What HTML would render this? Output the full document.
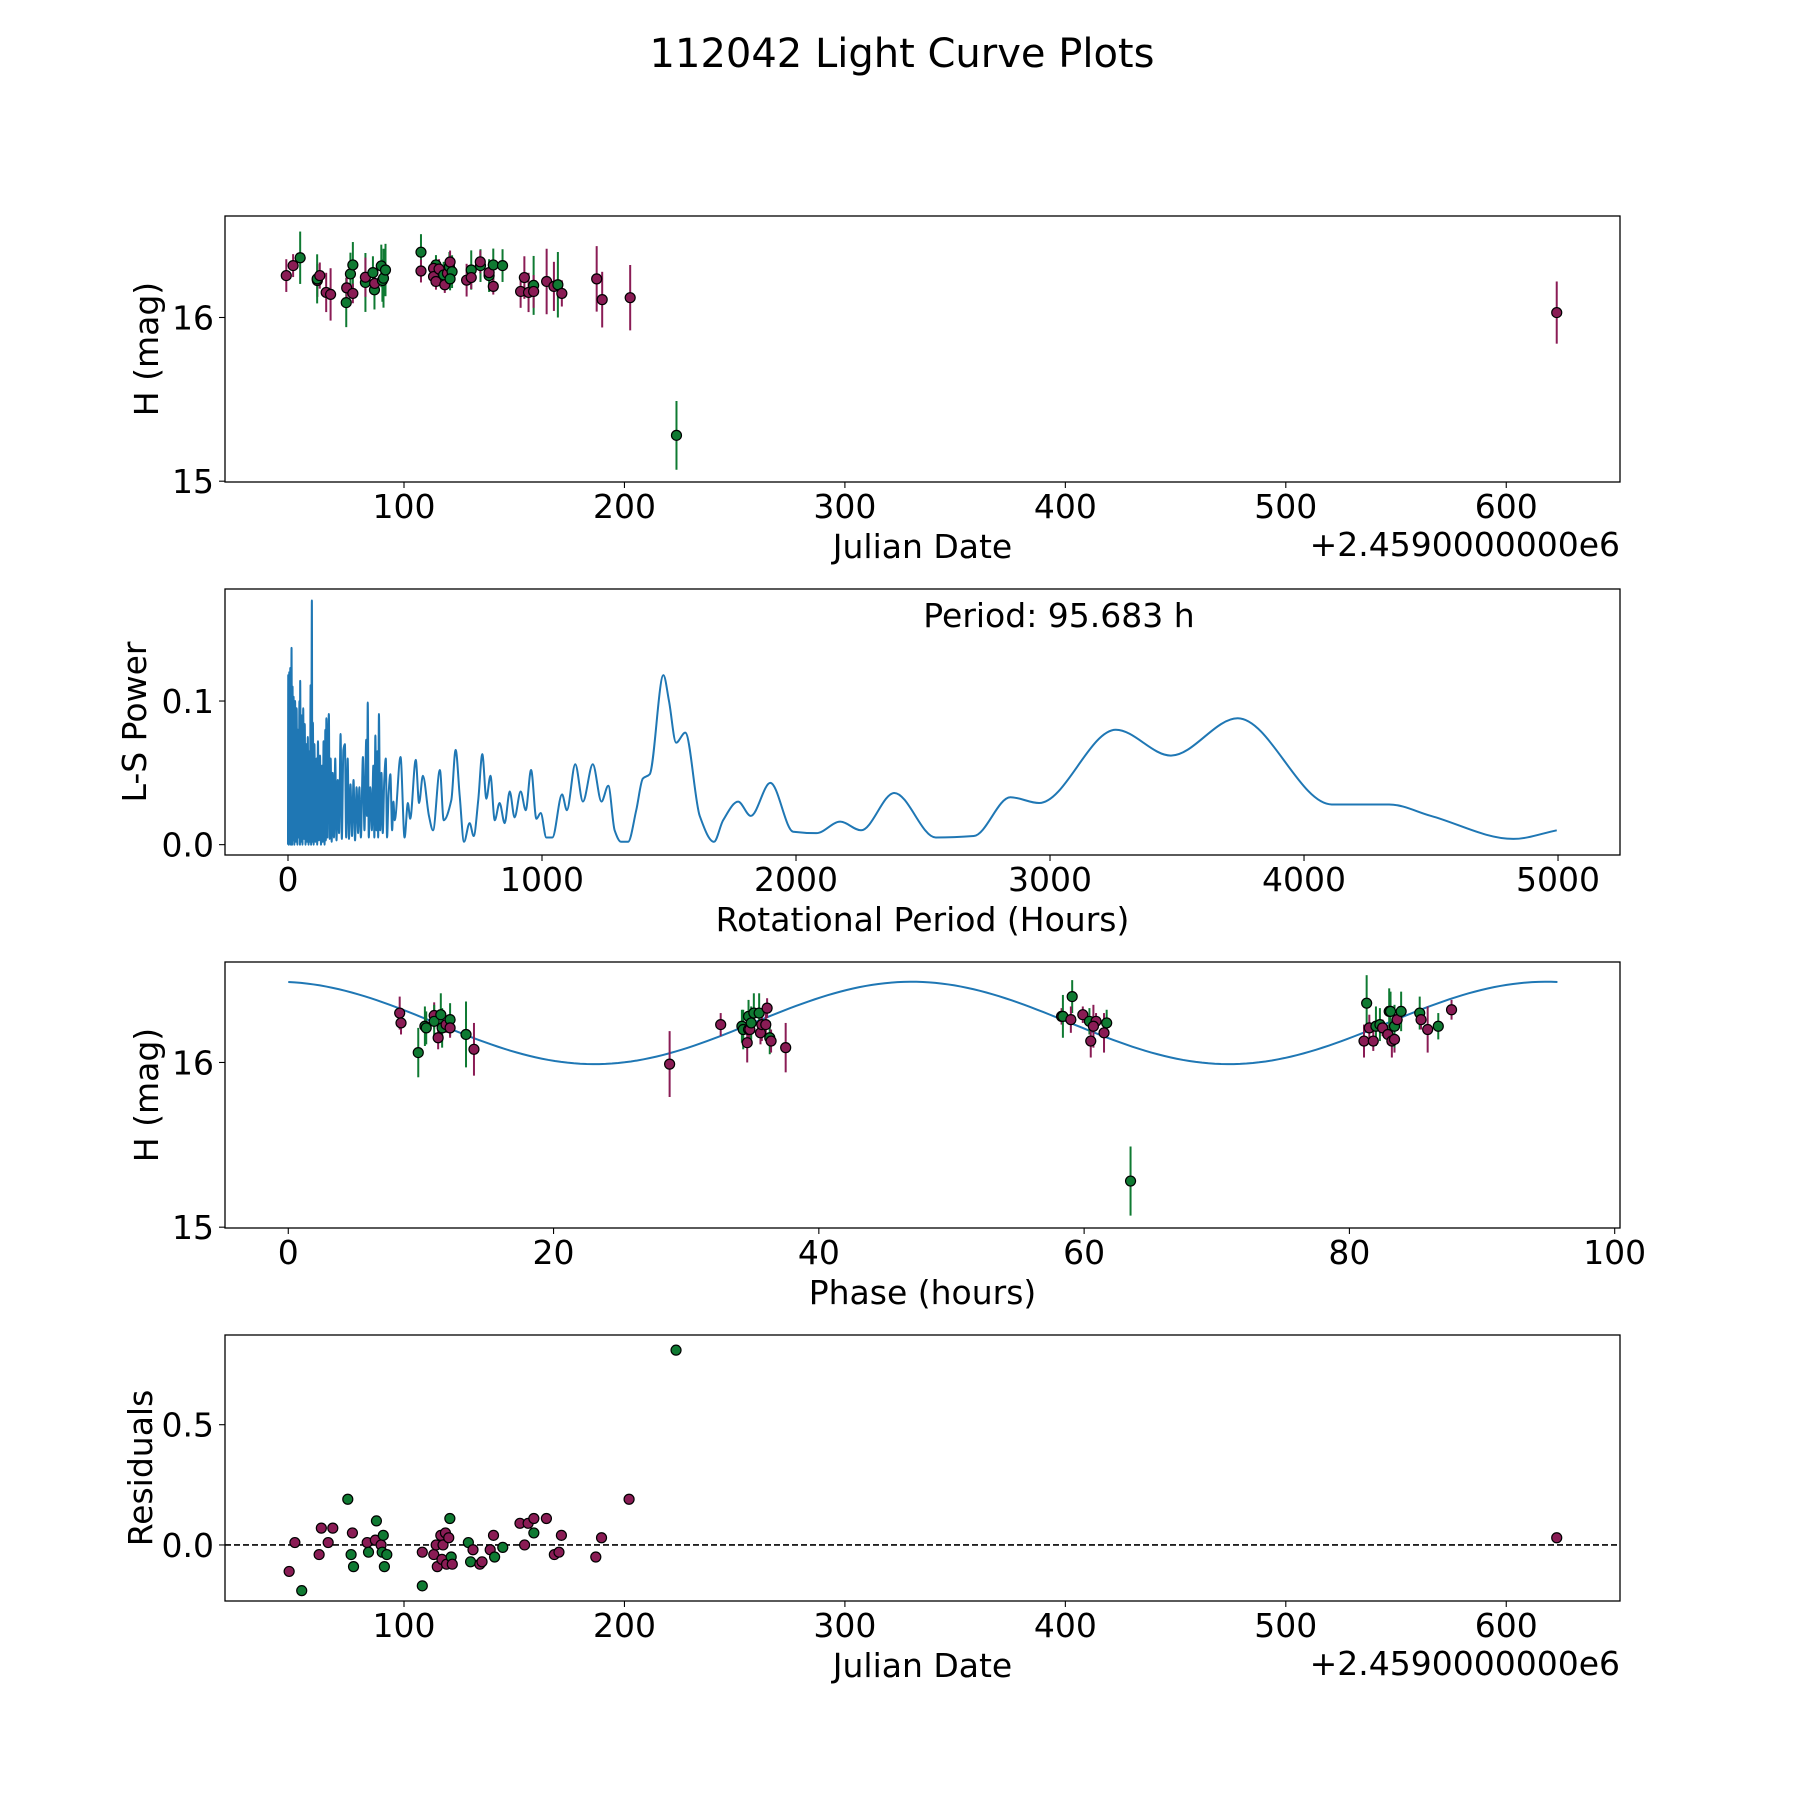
<!DOCTYPE html>
<html><head><meta charset="utf-8"><style>
html,body{margin:0;padding:0;background:#fff;}
svg{display:block;font-family:"DejaVu Sans","Liberation Sans",sans-serif;}
</style></head><body>
<svg id="fig" width="1800" height="1800" viewBox="0 0 1800 1800" xmlns="http://www.w3.org/2000/svg">
<rect width="1800" height="1800" fill="#fff"/>
<text x="902" y="67" font-size="40" text-anchor="middle">112042 Light Curve Plots</text>
</svg>
<script>
// ---------- data ----------
const jdDates = [46.6,49.7,52.9,60.7,60.6,61.8,64.7,66.7,73.8,74,75.7,76.8,76.8,82.5,82.5,85.9,86.6,86.7,89.7,90.2,90.7,91.6,107.7,107.7,114.5,113.4,113.4,115.9,114.5,118,118.5,119.7,120.6,120.9,121.8,120.9,128.4,130.5,130.5,134.7,134.6,138.6,138.6,140.5,140.5,144.7,152.9,154.6,156.5,158.8,158.8,164.7,168,169.8,171.6,187.4,189.9,202.6,223.6,622.9];
const jdMags = [16.256,16.317,16.365,16.226,16.236,16.256,16.153,16.141,16.091,16.181,16.266,16.321,16.147,16.214,16.246,16.274,16.169,16.208,16.315,16.226,16.24,16.29,16.399,16.284,16.321,16.30,16.25,16.296,16.22,16.26,16.2,16.27,16.31,16.339,16.28,16.236,16.228,16.29,16.244,16.317,16.34,16.256,16.274,16.321,16.19,16.317,16.159,16.244,16.153,16.196,16.159,16.22,16.19,16.2,16.147,16.236,16.109,16.121,15.28,16.03];
const jdErrs = [0.10,0.07,0.16,0.10,0.15,0.08,0.12,0.16,0.15,0.10,0.13,0.14,0.06,0.18,0.12,0.10,0.12,0.05,0.13,0.13,0.18,0.16,0.11,0.07,0.06,0.05,0.06,0.06,0.05,0.08,0.05,0.06,0.09,0.07,0.10,0.07,0.10,0.12,0.07,0.10,0.07,0.10,0.05,0.10,0.05,0.10,0.10,0.13,0.12,0.18,0.10,0.20,0.15,0.20,0.08,0.20,0.17,0.20,0.21,0.19];
const jdBands = ["m","m","g","m","g","m","m","m","g","m","g","g","m","g","m","g","g","m","g","g","g","g","g","m","g","m","m","m","m","g","m","m","g","m","g","g","m","g","m","g","m","g","m","g","m","g","m","m","m","g","m","m","m","g","m","m","m","m","g","m"];

const lsPeriods = [0,1,3,5,7,9,11,14,16,18,20,22,25,28,31,34,37,39,42,45,47,48,51,54,57,60,63,66,69,72,75,78,81,84,86,89,91,94,96,98,101,104,108,112,115,118,122,126,130,134,137,140,144,147,149,151,155,158,161,164,168,172,176,181,186,191,196,201,207,212,218,224,229,235,240,246,252,258,264,270,276,281,287,295,301,308,311,314,318,324,330,336,340,344,348,352,355,358,363,368,373,379,385,390,396,403,410,415,420,443,459,472,481,503,516,531,555,571,598,613,643,660,676,693,715,731,749,765,781,797,814,833,853,873,892,916,936,957,978,995,1017,1041,1079,1098,1131,1161,1200,1234,1261,1286,1311,1339,1371,1397,1424,1478,1500,1528,1564,1621,1677,1713,1772,1822,1899,1989,2080,2174,2256,2387,2550,2700,2844,2957,3259,3476,3739,4109,4335,4500,4824,4995];
const lsPower = [0,0.118,0,0.12,0.002,0.123,0,0.137,0,0.11,0.003,0.103,0,0.1,0.002,0.095,0,0.08,0.005,0.1,0,0.114,0.002,0.09,0,0.095,0.004,0.084,0,0.07,0.002,0.075,0,0.065,0.002,0.111,0,0.17,0.002,0.085,0,0.07,0.002,0.06,0,0.072,0.003,0.062,0,0.055,0.002,0.072,0,0.08,0.003,0.088,0.005,0.07,0.091,0.004,0.06,0.002,0.05,0.005,0.06,0.003,0.045,0.008,0.077,0.004,0.066,0.07,0.005,0.06,0.004,0.042,0.006,0.045,0.003,0.04,0.008,0.04,0.005,0.061,0.01,0.073,0.02,0.099,0.005,0.04,0.01,0.055,0.005,0.076,0.01,0.065,0.005,0.091,0.01,0.05,0.008,0.045,0.06,0.005,0.035,0.049,0.01,0.03,0.017,0.061,0.005,0.029,0.018,0.059,0.029,0.048,0.02,0.01,0.052,0.017,0.031,0.066,0.034,0.002,0.015,0.006,0.031,0.063,0.032,0.048,0.017,0.029,0.015,0.037,0.019,0.037,0.024,0.052,0.018,0.022,0.005,0.005,0.035,0.024,0.056,0.030,0.056,0.030,0.041,0.010,0.002,0.002,0.024,0.046,0.049,0.118,0.100,0.071,0.078,0.020,0.002,0.017,0.030,0.020,0.043,0.009,0.008,0.016,0.010,0.036,0.005,0.006,0.033,0.029,0.080,0.062,0.088,0.028,0.028,0.020,0.004,0.010];

const phaseHours = [8.4,8.5,9.8,10.3,10.4,11.0,11.0,11.5,11.3,11.6,11.9,12.2,12.2,13.4,14.0,28.75,32.6,34.2,34.3,34.6,34.7,34.8,34.7,35.1,35.5,34.9,35.6,35.7,36.0,36.1,36.3,36.4,37.5,58.3,58.4,59.1,59.0,59.9,60.4,60.9,60.7,60.5,61.7,61.5,63.5,81.3,81.1,81.5,81.8,82.0,82.3,82.5,82.9,83.0,83.1,83.2,83.4,83.4,83.6,83.9,85.3,85.4,85.9,86.7,87.7];
const phaseMags = [16.30,16.24,16.06,16.22,16.21,16.285,16.25,16.29,16.15,16.21,16.23,16.26,16.21,16.17,16.08,15.99,16.23,16.22,16.2,16.12,16.2,16.2,16.28,16.30,16.30,16.24,16.18,16.23,16.23,16.33,16.15,16.13,16.09,16.28,16.28,16.40,16.26,16.29,16.25,16.25,16.22,16.13,16.24,16.18,15.28,16.36,16.13,16.21,16.13,16.22,16.23,16.21,16.17,16.31,16.31,16.13,16.14,16.22,16.26,16.31,16.30,16.26,16.20,16.22,16.32];
const phaseErrs = [0.1,0.07,0.15,0.12,0.1,0.08,0.1,0.13,0.07,0.12,0.05,0.1,0.06,0.2,0.16,0.2,0.07,0.1,0.12,0.12,0.08,0.07,0.1,0.12,0.12,0.1,0.07,0.1,0.07,0.06,0.1,0.07,0.15,0.05,0.13,0.1,0.08,0.05,0.08,0.05,0.13,0.1,0.08,0.12,0.21,0.17,0.1,0.08,0.06,0.12,0.1,0.05,0.06,0.14,0.12,0.1,0.08,0.13,0.06,0.12,0.1,0.06,0.14,0.08,0.06];
const phaseBands = ["m","m","g","g","g","m","g","g","m","g","m","g","m","g","m","m","m","g","g","m","m","m","g","g","g","g","m","m","m","m","g","m","m","m","g","g","m","m","g","m","m","m","g","m","g","g","m","m","m","g","g","m","m","g","g","m","m","g","m","g","g","m","m","g","m"];

// fitted sinusoid parameters (mag offset, amplitude, peak phase, period hours)
const fitParams = [16.24, 0.25, 47.0, 47.84];
const fitPeriod = 95.683;

const resDates = [47.9,50.5,53.6,61.5,62.5,65.6,67.7,74.5,76,76.6,77.1,83.3,83.9,87,87.5,89.6,90.1,90.6,91.1,92.2,108.3,108.3,113.5,114.6,115.1,116.7,117.2,117.7,118.8,119.3,120.3,120.8,121.4,121.9,129.2,130.2,131.3,134.4,135.4,139.1,140.6,141.1,144.8,152.6,154.7,156.3,158.9,158.9,164.6,168.2,170.3,171.4,187,189.6,202.1,223.4,622.9];
const resValues = [-0.11,0.01,-0.19,-0.04,0.07,0.01,0.07,0.19,-0.04,0.05,-0.09,0.01,-0.03,0.02,0.10,0.0,-0.03,0.04,-0.09,-0.04,-0.17,-0.03,-0.04,0.0,-0.09,0.04,-0.06,0.0,0.05,-0.08,0.03,0.11,-0.05,-0.08,0.01,-0.07,-0.02,-0.08,-0.07,-0.02,0.04,-0.05,-0.01,0.09,0.0,0.09,0.11,0.05,0.11,-0.04,-0.03,0.04,-0.05,0.03,0.19,0.81,0.03];
const resBands = ["m","m","g","m","m","m","m","g","g","m","g","m","g","m","g","m","g","g","g","g","g","m","m","m","m","m","m","m","m","m","m","g","g","m","g","g","m","m","m","m","m","g","g","m","m","m","m","g","m","m","m","m","m","m","m","g","m"];

const jdTicks = [100,200,300,400,500,600];
const lsTicksX = [0,1000,2000,3000,4000,5000];
const phaseTicks = [0,20,40,60,80,100];

// ---------- rendering ----------
const NS = "http://www.w3.org/2000/svg";
const svg = document.getElementById('fig');
const COL = {m:"#8a1c55", g:"#0f7a32"};
const FS = 33;
function mk(tag, attrs, parent){
  const e = document.createElementNS(NS, tag);
  for (const k in attrs) e.setAttribute(k, attrs[k]);
  (parent||svg).appendChild(e);
  return e;
}
function axes(name, L, T, R, B, xmin, xmax, ymin, ymax){
  const g = mk('g', {});
  
  
  return {g, L, T, R, B,
    x: v => L + (v - xmin) / (xmax - xmin) * (R - L),
    y: v => B - (v - ymin) / (ymax - ymin) * (B - T)};
}
function frame(ax){
  const r = mk('rect', {x:ax.L, y:ax.T, width:ax.R-ax.L, height:ax.B-ax.T, fill:'none', stroke:'#000', 'stroke-width':1.3}, ax.g);
  
  
}
function xticks(ax, ticks, labels){
  ticks.forEach((t,i)=>{
    const X = ax.x(t);
    mk('line', {x1:X, x2:X, y1:ax.B, y2:ax.B+6, stroke:'#000', 'stroke-width':1.1}, ax.g);
    const tx = mk('text', {x:X, y:ax.B+36, 'font-size':FS, 'text-anchor':'middle'}, ax.g);
    tx.textContent = labels[i];
    
    
  });
}
function yticks(ax, ticks, labels){
  ticks.forEach((t,i)=>{
    const Y = ax.y(t);
    mk('line', {x1:ax.L-6, x2:ax.L, y1:Y, y2:Y, stroke:'#000', 'stroke-width':1.1}, ax.g);
    const tx = mk('text', {x:ax.L-11, y:Y+12, 'font-size':FS, 'text-anchor':'end'}, ax.g);
    tx.textContent = labels[i];
    
    
  });
}
function xlabel(ax, txt, y){
  const t = mk('text', {x:(ax.L+ax.R)/2, y:y, 'font-size':FS, 'text-anchor':'middle'}, ax.g);
  t.textContent = txt;
  
  
}
function ylabel(ax, txt, x){
  const cy = (ax.T+ax.B)/2;
  const t = mk('text', {x:x, y:cy, 'font-size':FS, 'text-anchor':'middle', transform:`rotate(-90 ${x} ${cy})`}, ax.g);
  t.textContent = txt;
  
  
}
function offsetText(ax){
  const t = mk('text', {x:ax.R, y:ax.B+74, 'font-size':FS, 'text-anchor':'end'}, ax.g);
  t.textContent = '+2.4590000000e6';
  
  
}
function errPoints(ax, xs, ys, es, cs){
  xs.forEach((v,i)=>{
    const X = ax.x(v);
    const l = mk('line', {x1:X, x2:X, y1:ax.y(ys[i]-es[i]), y2:ax.y(ys[i]+es[i]), stroke:COL[cs[i]], 'stroke-width':2}, ax.g);
    
    
  });
  xs.forEach((v,i)=>{
    const c = mk('circle', {cx:ax.x(v), cy:ax.y(ys[i]), r:5, fill:COL[cs[i]], stroke:'#000', 'stroke-width':1.2}, ax.g);
    
    
  });
}
function monoPath(P){
  const n = P.length, d = [], m = [];
  for (let i=0;i<n-1;i++){ const dx = P[i+1][0]-P[i][0]; d.push(dx>0 ? (P[i+1][1]-P[i][1])/dx : 0); }
  m[0] = d[0]; m[n-1] = d[n-2];
  for (let i=1;i<n-1;i++) m[i] = (d[i-1]*d[i] <= 0) ? 0 : 2/(1/d[i-1]+1/d[i]);
  let s = `M${P[0][0].toFixed(2)},${P[0][1].toFixed(2)}`;
  for (let i=0;i<n-1;i++){
    const h = (P[i+1][0]-P[i][0])/3;
    s += ` C${(P[i][0]+h).toFixed(2)},${(P[i][1]+m[i]*h).toFixed(2)} ${(P[i+1][0]-h).toFixed(2)},${(P[i+1][1]-m[i+1]*h).toFixed(2)} ${P[i+1][0].toFixed(2)},${P[i+1][1].toFixed(2)}`;
  }
  return s;
}

// Panel 1
const a1 = axes('light-curve-panel', 225, 216, 1620, 482, 18.8, 651.6, 14.995, 16.62);
errPoints(a1, jdDates, jdMags, jdErrs, jdBands);
frame(a1);
xticks(a1, jdTicks, jdTicks.map(String));
yticks(a1, [15,16], ['15','16']);
xlabel(a1, 'Julian Date', 558);
offsetText(a1);
ylabel(a1, 'H (mag)', 158);

// Panel 2
const a2 = axes('periodogram-panel', 225, 589, 1620, 855, -248, 5244, -0.0072, 0.178);
const pts = lsPeriods.map((p,i)=>[a2.x(p), a2.y(lsPower[i])]);
const pl = mk('path', {d:monoPath(pts), fill:'none', stroke:'#1f77b4', 'stroke-width':2, 'stroke-linejoin':'round'}, a2.g);


frame(a2);
xticks(a2, lsTicksX, lsTicksX.map(String));
yticks(a2, [0,0.1], ['0.0','0.1']);
xlabel(a2, 'Rotational Period (Hours)', 931);
ylabel(a2, 'L-S Power', 146);
const pt = mk('text', {x:1059, y:627, 'font-size':FS, 'text-anchor':'middle'}, a2.g);
pt.textContent = 'Period: 95.683 h';



// Panel 3
const a3 = axes('phase-panel', 225, 962, 1620, 1228, -4.77, 100.4, 14.995, 16.61);
let fd = '';
for (let k=0;k<=200;k++){
  const p = fitPeriod*k/200;
  const v = fitParams[0] + fitParams[1]*Math.cos(2*Math.PI*(p-fitParams[2])/fitParams[3]);
  fd += `${k?'L':'M'}${a3.x(p).toFixed(2)},${a3.y(v).toFixed(2)} `;
}
const fl = mk('path', {d:fd, fill:'none', stroke:'#1f77b4', 'stroke-width':2}, a3.g);


errPoints(a3, phaseHours, phaseMags, phaseErrs, phaseBands);
frame(a3);
xticks(a3, phaseTicks, phaseTicks.map(String));
yticks(a3, [15,16], ['15','16']);
xlabel(a3, 'Phase (hours)', 1304);
ylabel(a3, 'H (mag)', 158);

// Panel 4
const a4 = axes('residuals-panel', 225, 1335, 1620, 1601, 18.8, 651.6, -0.233, 0.873);
const zl = mk('line', {x1:a4.L, x2:a4.R, y1:a4.y(0), y2:a4.y(0), stroke:'#000', 'stroke-width':1.6, 'stroke-dasharray':'6,3'}, a4.g);


resDates.forEach((v,i)=>{
  const c = mk('circle', {cx:a4.x(v), cy:a4.y(resValues[i]), r:5, fill:COL[resBands[i]], stroke:'#000', 'stroke-width':1.2}, a4.g);
  
  
});
frame(a4);
xticks(a4, jdTicks, jdTicks.map(String));
yticks(a4, [0,0.5], ['0.0','0.5']);
xlabel(a4, 'Julian Date', 1677);
offsetText(a4);
ylabel(a4, 'Residuals', 152);
</script>
</body></html>
